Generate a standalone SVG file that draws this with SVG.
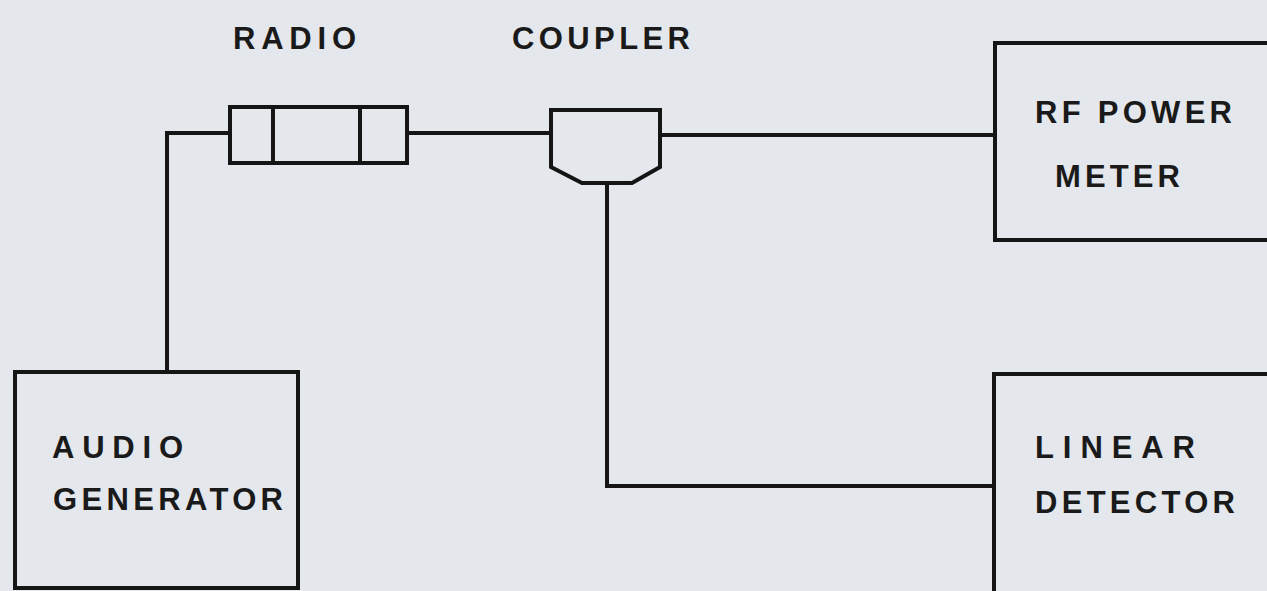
<svg xmlns="http://www.w3.org/2000/svg" width="1267" height="591" viewBox="0 0 1267 591">
<style>
.s{fill:none;stroke:#151515;stroke-width:4;stroke-linejoin:miter}
.t{font-family:"Liberation Sans",Arial,sans-serif;font-size:31px;fill:#1a1a1a;font-weight:bold}
</style>
<rect width="1267" height="591" fill="#e4e7ec"/>
<g id="connectors" class="s">
<polyline points="230,133 167,133 167,372"/>
<line x1="407" y1="133" x2="551" y2="133"/>
<line x1="660" y1="135" x2="995" y2="135"/>
<polyline points="607,183 607,486 994,486"/>
</g>
<g id="radio">
<rect class="s" x="230" y="107" width="177" height="56"/>
<line class="s" x1="273" y1="107" x2="273" y2="163"/>
<line class="s" x1="360" y1="107" x2="360" y2="163"/>
<text class="t" x="233" y="49" textLength="123" lengthAdjust="spacing">RADIO</text>
</g>
<g id="coupler">
<path class="s" d="M551,110 L660,110 L660,167 L632,183 L582,183 L551,167 Z"/>
<text class="t" x="512" y="49" textLength="178" lengthAdjust="spacing">COUPLER</text>
</g>
<g id="rf-power-meter">
<path class="s" d="M1270,43 L995,43 L995,240 L1270,240"/>
<text class="t" x="1035" y="123" textLength="197" lengthAdjust="spacing">RF POWER</text>
<text class="t" x="1055" y="187" textLength="125" lengthAdjust="spacing">METER</text>
</g>
<g id="audio-generator">
<rect class="s" x="15" y="372" width="283" height="216"/>
<text class="t" x="52" y="458" textLength="131" lengthAdjust="spacing">AUDIO</text>
<text class="t" x="53" y="510" textLength="230" lengthAdjust="spacing">GENERATOR</text>
</g>
<g id="linear-detector">
<path class="s" d="M1270,374 L994,374 L994,595"/>
<text class="t" x="1035" y="458" textLength="160" lengthAdjust="spacing">LINEAR</text>
<text class="t" x="1035" y="513" textLength="200" lengthAdjust="spacing">DETECTOR</text>
</g>
</svg>
